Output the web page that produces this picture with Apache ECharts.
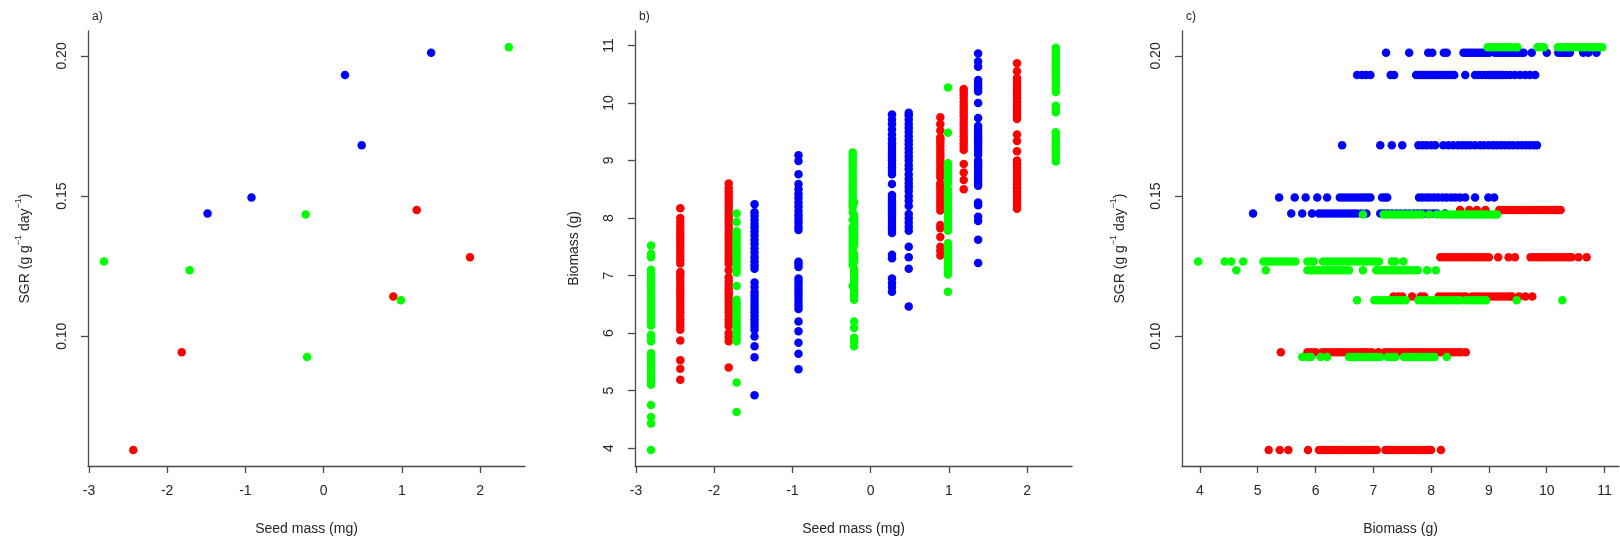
<!DOCTYPE html>
<html>
<head>
<meta charset="utf-8">
<script src="https://cdn.jsdelivr.net/npm/echarts@6/dist/echarts.min.js"></script>
<style>
html,body{margin:0;padding:0;background:#fff;}
#chart{width:1620px;height:544px;}
</style>
</head>
<body>
<div id="chart"></div>
<script>
// ---- Data ----
// 16 families: group, seed mass (mg), SGR (g g-1 day-1)
const familyGroup = ['blue','blue','blue','blue','blue','red','red','red','red','red','green','green','green','green','green','green'];
const seedMass = [-1.484, -0.922, 0.273, 0.487, 1.374, -2.433, -1.814, 0.891, 1.19, 1.871, -2.807, -1.713, -0.229, -0.211, 0.988, 2.367];
const sgr = [0.1438, 0.1495, 0.1932, 0.1681, 0.2011, 0.0594, 0.0943, 0.1142, 0.1450, 0.1282, 0.1267, 0.1235, 0.1434, 0.0926, 0.1128, 0.2031];

// Individual biomass (g) per family
const bioB1 = [4.92, 5.58, 5.77, 5.94, 6.06, 6.12, 6.18, 6.24, 6.3, 6.36, 6.42, 6.48, 6.54, 6.6, 6.66, 6.72, 6.8, 6.88, 7.12, 7.18, 7.25, 7.32, 7.4, 7.47, 7.55, 7.62, 7.7, 7.77, 7.84, 7.9, 7.97, 8.04, 8.1, 8.24];
const bioB2 = [5.37, 5.64, 5.83, 6.03, 6.2, 6.42, 6.48, 6.54, 6.6, 6.66, 6.72, 6.78, 6.84, 6.9, 6.95, 7.15, 7.2, 7.24, 7.79, 7.85, 7.92, 7.98, 8.05, 8.12, 8.2, 8.27, 8.35, 8.42, 8.5, 8.59, 8.76, 8.99, 9.09];
const bioB3 = [6.72, 6.8, 6.87, 6.95, 7.3, 7.36, 7.74, 7.8, 7.85, 7.9, 7.95, 8.0, 8.05, 8.1, 8.15, 8.2, 8.25, 8.3, 8.35, 8.4, 8.59, 8.76, 8.82, 8.88, 8.94, 9.0, 9.05, 9.1, 9.15, 9.2, 9.25, 9.3, 9.37, 9.45, 9.54, 9.63, 9.71, 9.8];
const bioB4 = [6.46, 7.12, 7.32, 7.5, 7.78, 7.85, 7.92, 8.0, 8.07, 8.21, 8.3, 8.38, 8.47, 8.54, 8.61, 8.68, 8.76, 8.85, 8.92, 9.0, 9.07, 9.14, 9.21, 9.28, 9.35, 9.42, 9.5, 9.57, 9.64, 9.71, 9.78, 9.83];
const bioB5 = [7.22, 7.62, 7.95, 8.02, 8.22, 8.27, 8.56, 8.6, 8.65, 8.7, 8.75, 8.8, 8.85, 8.9, 8.95, 9.0, 9.1, 9.15, 9.2, 9.25, 9.3, 9.35, 9.4, 9.45, 9.5, 9.55, 9.6, 9.74, 10.0, 10.2, 10.25, 10.3, 10.35, 10.4, 10.63, 10.72, 10.86];
const bioR1 = [5.19, 5.38, 5.53, 5.87, 6.06, 6.12, 6.18, 6.24, 6.3, 6.36, 6.42, 6.48, 6.54, 6.6, 6.66, 6.72, 6.78, 6.84, 6.9, 6.96, 7.02, 7.06, 7.21, 7.27, 7.33, 7.39, 7.45, 7.51, 7.57, 7.63, 7.69, 7.75, 7.81, 7.87, 7.93, 8.0, 8.17];
const bioR2 = [5.4, 5.86, 5.93, 6.0, 6.12, 6.18, 6.24, 6.3, 6.36, 6.42, 6.48, 6.54, 6.6, 6.66, 6.72, 6.78, 6.84, 6.9, 6.97, 7.09, 7.2, 7.26, 7.32, 7.38, 7.44, 7.5, 7.56, 7.62, 7.68, 7.74, 7.8, 7.86, 7.92, 7.98, 8.04, 8.1, 8.16, 8.22, 8.28, 8.34, 8.4, 8.46, 8.52, 8.6];
const bioR3 = [7.35, 7.43, 7.5, 7.67, 7.82, 7.88, 8.13, 8.19, 8.25, 8.31, 8.37, 8.43, 8.49, 8.55, 8.6, 8.71, 8.77, 8.83, 8.89, 8.95, 9.01, 9.07, 9.13, 9.19, 9.25, 9.31, 9.37, 9.4, 9.52, 9.63, 9.75];
const bioR4 = [8.5, 8.66, 8.79, 8.94, 9.18, 9.24, 9.3, 9.36, 9.42, 9.48, 9.54, 9.6, 9.66, 9.72, 9.78, 9.84, 9.9, 9.96, 10.02, 10.08, 10.14, 10.2, 10.24];
const bioR5 = [8.16, 8.22, 8.28, 8.34, 8.4, 8.46, 8.52, 8.58, 8.64, 8.7, 8.76, 8.82, 8.88, 8.94, 9.0, 9.16, 9.34, 9.45, 9.72, 9.78, 9.84, 9.9, 9.96, 10.02, 10.08, 10.14, 10.2, 10.26, 10.32, 10.38, 10.43, 10.55, 10.69];
const bioG1 = [3.97, 4.43, 4.54, 4.75, 5.1, 5.16, 5.22, 5.28, 5.34, 5.4, 5.46, 5.52, 5.58, 5.65, 5.86, 5.92, 5.97, 6.13, 6.2, 6.27, 6.34, 6.41, 6.48, 6.55, 6.62, 6.69, 6.76, 6.83, 6.9, 6.97, 7.04, 7.1, 7.32, 7.38, 7.52];
const bioG2 = [4.63, 5.14, 5.86, 5.92, 5.98, 6.04, 6.1, 6.16, 6.22, 6.28, 6.34, 6.4, 6.46, 6.52, 6.58, 6.82, 7.05, 7.11, 7.17, 7.23, 7.29, 7.35, 7.41, 7.47, 7.53, 7.59, 7.65, 7.71, 7.77, 7.93, 8.08];
const bioG3 = [6.82, 7.18, 7.24, 7.3, 7.36, 7.42, 7.48, 7.54, 7.6, 7.66, 7.72, 7.78, 7.84, 7.97, 8.1, 8.19, 8.25, 8.31, 8.37, 8.43, 8.49, 8.55, 8.61, 8.67, 8.73, 8.79, 8.85, 8.91, 8.97, 9.03, 9.09, 9.14];
const bioG4 = [5.77, 5.86, 5.92, 6.09, 6.2, 6.58, 6.64, 6.7, 6.76, 6.82, 6.88, 6.94, 7.0, 7.06, 7.12, 7.25, 7.32, 7.38, 7.53, 7.59, 7.65, 7.71, 7.77, 7.83, 7.89, 7.95, 8.01, 8.06, 8.27];
const bioG5 = [6.72, 7.02, 7.08, 7.14, 7.2, 7.26, 7.32, 7.38, 7.44, 7.5, 7.56, 7.78, 7.84, 7.9, 7.96, 8.02, 8.08, 8.14, 8.2, 8.26, 8.32, 8.38, 8.44, 8.5, 8.6, 8.66, 8.72, 8.78, 8.84, 8.9, 8.95, 9.48, 10.27];
const bioG6 = [8.98, 9.04, 9.1, 9.16, 9.22, 9.28, 9.34, 9.4, 9.46, 9.49, 9.84, 9.9, 9.95, 10.19, 10.25, 10.31, 10.37, 10.43, 10.49, 10.55, 10.61, 10.67, 10.73, 10.79, 10.85, 10.91, 10.96];
const biomassByFamily = [bioB1, bioB2, bioB3, bioB4, bioB5, bioR1, bioR2, bioR3, bioR4, bioR5, bioG1, bioG2, bioG3, bioG4, bioG5, bioG6];

// Tick labels
const seedTicks = [-3, -2, -1, 0, 1, 2];
const sgrTicks = [0.10, 0.15, 0.20];
const biomassTicks = [4, 5, 6, 7, 8, 9, 10, 11];
const panelLabels = ['a)', 'b)', 'c)'];

// ---- Styles ----
const groups = ['blue', 'red', 'green'];
const groupColors = { blue: '#0000FF', red: '#FF0000', green: '#00FF00' };
const FONT = "'Liberation Sans', Arial, Helvetica, sans-serif";
const TXT = '#262626';
const AX = '#4a4a4a';

// Build data per panel/group
function panelA(g) {
  const out = [];
  familyGroup.forEach((fg, i) => { if (fg === g) out.push([seedMass[i], sgr[i]]); });
  return out;
}
function panelB(g) {
  const out = [];
  familyGroup.forEach((fg, i) => { if (fg === g) biomassByFamily[i].forEach(b => out.push([seedMass[i], b])); });
  return out;
}
function panelC(g) {
  const out = [];
  familyGroup.forEach((fg, i) => { if (fg === g) biomassByFamily[i].forEach(b => out.push([b, sgr[i]])); });
  return out;
}

const gridLefts = [88, 635, 1182];
const grid = gridLefts.map(l => ({ left: l, top: 31, width: 437, height: 435 }));

function xAxisCfg(idx, min, max, ticks, name) {
  return {
    type: 'value', gridIndex: idx, min: min, max: max,
    name: name, nameLocation: 'middle', nameGap: 56,
    nameTextStyle: { fontFamily: FONT, fontSize: 14, color: TXT },
    axisLine: { show: true, onZero: false, lineStyle: { color: AX, width: 1.3 } },
    axisTick: { show: true, inside: false, length: 7, customValues: ticks, lineStyle: { color: AX, width: 1.3 } },
    axisLabel: { customValues: ticks, margin: 18, fontFamily: FONT, fontSize: 14, color: TXT },
    splitLine: { show: false }
  };
}
function yAxisCfg(idx, min, max, ticks, name, fmt, gap, rich) {
  return {
    type: 'value', gridIndex: idx, min: min, max: max,
    name: name, nameLocation: 'middle', nameGap: gap,
    nameTextStyle: Object.assign({ fontFamily: FONT, fontSize: 14, color: TXT }, rich ? { rich: rich } : {}),
    axisLine: { show: true, onZero: false, lineStyle: { color: AX, width: 1.3 } },
    axisTick: { show: true, inside: false, length: 7, customValues: ticks, lineStyle: { color: AX, width: 1.3 } },
    axisLabel: { customValues: ticks, rotate: 90, margin: 19, fontFamily: FONT, fontSize: 14, color: TXT, formatter: fmt },
    splitLine: { show: false }
  };
}

const sgrRich = {
  a: { fontFamily: FONT, fontSize: 14, color: TXT, lineHeight: 18, verticalAlign: 'bottom' },
  s: { fontFamily: FONT, fontSize: 9, color: TXT, lineHeight: 18, verticalAlign: 'top' }
};
const sgrName = '{a|SGR (g g}{s|\u22121}{a| day}{s|\u22121}{a|)}';

const fmt2 = v => Number(v).toFixed(2);
const fmt0 = v => String(Math.round(v));

const xAxis = [
  xAxisCfg(0, -3.012, 2.574, seedTicks, 'Seed mass (mg)'),
  xAxisCfg(1, -3.012, 2.574, seedTicks, 'Seed mass (mg)'),
  xAxisCfg(2, 3.69, 11.25, biomassTicks, 'Biomass (g)')
];
const yAxis = [
  yAxisCfg(0, 0.0537, 0.2089, sgrTicks, sgrName, fmt2, 56, sgrRich),
  yAxisCfg(1, 3.69, 11.25, biomassTicks, 'Biomass (g)', fmt0, 54, null),
  yAxisCfg(2, 0.0537, 0.2089, sgrTicks, sgrName, fmt2, 55, sgrRich)
];

const series = [];
const builders = [panelA, panelB, panelC];
builders.forEach((fn, p) => {
  groups.forEach(g => {
    series.push({
      type: 'scatter', xAxisIndex: p, yAxisIndex: p,
      data: fn(g), symbol: 'circle', symbolSize: 8.5,
      itemStyle: { color: groupColors[g], opacity: 1 },
      silent: true, animation: false
    });
  });
});

const title = panelLabels.map((t, i) => ({
  text: t, left: gridLefts[i] - 1, top: 6,
  textStyle: { fontFamily: FONT, fontSize: 12, fontWeight: 'normal', color: TXT }
}));

const chart = echarts.init(document.getElementById('chart'), null, { renderer: 'canvas' });
chart.setOption({
  backgroundColor: '#ffffff',
  animation: false,
  title: title,
  grid: grid,
  xAxis: xAxis,
  yAxis: yAxis,
  series: series
});
</script>
</body>
</html>
